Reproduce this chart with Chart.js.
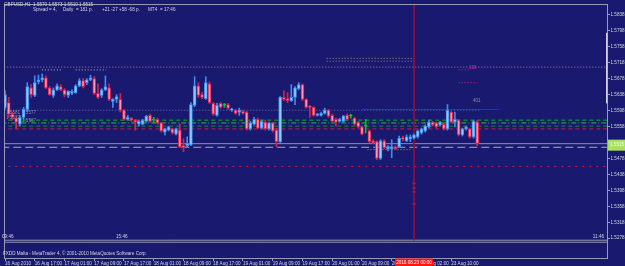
<!DOCTYPE html>
<html>
<head>
<meta charset="utf-8">
<script src="https://cdn.jsdelivr.net/npm/chart.js@4.4.1/dist/chart.umd.min.js"></script>
<style>
  html, body { margin: 0; padding: 0; background: #191970; }
  #wrap { width: 625px; height: 266px; }
</style>
</head>
<body>
<div id="wrap"><canvas id="chart" width="625" height="266"></canvas></div>
<script>
// GBPUSD H1 candles (bar 0 = 16 Aug 09:00)
const opens = [
  1.5606, 1.5618, 1.5589, 1.5579, 1.5564, 1.5581, 1.5601, 1.5655, 1.5636, 1.5670,
  1.5675, 1.5680, 1.5655, 1.5636, 1.5650, 1.5658, 1.5650, 1.5636, 1.5641, 1.5643,
  1.5660, 1.5673, 1.5668, 1.5675, 1.5678, 1.5641, 1.5636, 1.5650, 1.5655, 1.5621,
  1.5626, 1.5626, 1.5599, 1.5576, 1.5579, 1.5574, 1.5564, 1.5564, 1.5571, 1.5586,
  1.5574, 1.5576, 1.5567, 1.5544, 1.5549, 1.5552, 1.5539, 1.5549, 1.5510, 1.5510,
  1.5512, 1.5611, 1.5660, 1.5638, 1.5628, 1.5665, 1.5616, 1.5586, 1.5616, 1.5611,
  1.5613, 1.5599, 1.5599, 1.5594, 1.5596, 1.5594, 1.5552, 1.5564, 1.5576, 1.5554,
  1.5569, 1.5552, 1.5567, 1.5549, 1.5520, 1.5631, 1.5628, 1.5623, 1.5631, 1.5653,
  1.5663, 1.5626, 1.5608, 1.5606, 1.5586, 1.5586, 1.5591, 1.5599, 1.5586, 1.5576,
  1.5571, 1.5571, 1.5586, 1.5584, 1.5579, 1.5569, 1.5557, 1.5559, 1.5547, 1.5522,
  1.5520, 1.5478, 1.5522, 1.5502, 1.5502, 1.5507, 1.5507, 1.5529, 1.5522, 1.5527,
  1.5529, 1.5532, 1.5542, 1.5547, 1.5557, 1.5569, 1.5567, 1.5562, 1.5564, 1.5552,
  1.5594, 1.5569, 1.5574, 1.5537, 1.5552, 1.5552, 1.5532, 1.5570
];
const highs = [
  1.5648, 1.5631, 1.5594, 1.5584, 1.5586, 1.5606, 1.5668, 1.5663, 1.5685, 1.5687,
  1.5690, 1.5685, 1.5658, 1.5655, 1.5665, 1.5663, 1.5653, 1.5648, 1.5650, 1.5663,
  1.5678, 1.5678, 1.5678, 1.5687, 1.5683, 1.5665, 1.5653, 1.5685, 1.5665, 1.5628,
  1.5638, 1.5641, 1.5601, 1.5586, 1.5581, 1.5576, 1.5574, 1.5576, 1.5586, 1.5589,
  1.5581, 1.5579, 1.5569, 1.5554, 1.5559, 1.5554, 1.5554, 1.5564, 1.5527, 1.5532,
  1.5618, 1.5683, 1.5668, 1.5643, 1.5683, 1.5670, 1.5618, 1.5616, 1.5618, 1.5616,
  1.5616, 1.5604, 1.5601, 1.5604, 1.5599, 1.5596, 1.5571, 1.5581, 1.5579, 1.5574,
  1.5574, 1.5569, 1.5569, 1.5554, 1.5633, 1.5648, 1.5643, 1.5663, 1.5658, 1.5668,
  1.5665, 1.5628, 1.5611, 1.5608, 1.5591, 1.5594, 1.5604, 1.5601, 1.5589, 1.5579,
  1.5579, 1.5586, 1.5589, 1.5589, 1.5581, 1.5571, 1.5559, 1.5576, 1.5549, 1.5525,
  1.5522, 1.5525, 1.5525, 1.5510, 1.5525, 1.5510, 1.5534, 1.5534, 1.5537, 1.5537,
  1.5539, 1.5549, 1.5554, 1.5562, 1.5574, 1.5571, 1.5569, 1.5571, 1.5567, 1.5613,
  1.5596, 1.5594, 1.5576, 1.5554, 1.5559, 1.5554, 1.5574, 1.5573
];
const lows = [
  1.5601, 1.5581, 1.5574, 1.5552, 1.5559, 1.5576, 1.5596, 1.5631, 1.5633, 1.5665,
  1.5670, 1.5653, 1.5636, 1.5631, 1.5648, 1.5648, 1.5633, 1.5631, 1.5638, 1.5641,
  1.5658, 1.5655, 1.5663, 1.5673, 1.5638, 1.5628, 1.5631, 1.5648, 1.5623, 1.5606,
  1.5618, 1.5594, 1.5574, 1.5574, 1.5571, 1.5549, 1.5559, 1.5562, 1.5569, 1.5569,
  1.5567, 1.5564, 1.5544, 1.5537, 1.5547, 1.5539, 1.5537, 1.5505, 1.5495, 1.5505,
  1.5510, 1.5608, 1.5631, 1.5628, 1.5626, 1.5616, 1.5586, 1.5584, 1.5604, 1.5606,
  1.5601, 1.5596, 1.5589, 1.5586, 1.5589, 1.5549, 1.5549, 1.5562, 1.5552, 1.5552,
  1.5549, 1.5549, 1.5544, 1.5507, 1.5517, 1.5623, 1.5618, 1.5621, 1.5613, 1.5650,
  1.5623, 1.5604, 1.5581, 1.5584, 1.5584, 1.5584, 1.5589, 1.5581, 1.5569, 1.5559,
  1.5569, 1.5569, 1.5574, 1.5579, 1.5562, 1.5554, 1.5537, 1.5542, 1.5517, 1.5515,
  1.5475, 1.5475, 1.5502, 1.5497, 1.5480, 1.5500, 1.5505, 1.5522, 1.5520, 1.5520,
  1.5527, 1.5529, 1.5539, 1.5544, 1.5554, 1.5559, 1.5554, 1.5559, 1.5549, 1.5549,
  1.5567, 1.5557, 1.5534, 1.5534, 1.5549, 1.5529, 1.5529, 1.5510
];
const closes = [
  1.5638, 1.5589, 1.5581, 1.5569, 1.5581, 1.5601, 1.5658, 1.5638, 1.5668, 1.5675,
  1.5680, 1.5655, 1.5638, 1.5650, 1.5660, 1.5650, 1.5638, 1.5646, 1.5646, 1.5660,
  1.5673, 1.5658, 1.5675, 1.5680, 1.5641, 1.5631, 1.5650, 1.5658, 1.5626, 1.5626,
  1.5633, 1.5599, 1.5576, 1.5581, 1.5574, 1.5569, 1.5571, 1.5574, 1.5584, 1.5571,
  1.5574, 1.5567, 1.5547, 1.5552, 1.5557, 1.5542, 1.5552, 1.5507, 1.5505, 1.5515,
  1.5613, 1.5660, 1.5636, 1.5631, 1.5668, 1.5618, 1.5589, 1.5611, 1.5606, 1.5611,
  1.5604, 1.5601, 1.5591, 1.5599, 1.5591, 1.5552, 1.5567, 1.5576, 1.5554, 1.5571,
  1.5552, 1.5567, 1.5547, 1.5520, 1.5631, 1.5626, 1.5623, 1.5631, 1.5655, 1.5663,
  1.5626, 1.5606, 1.5606, 1.5586, 1.5589, 1.5591, 1.5599, 1.5584, 1.5571, 1.5569,
  1.5576, 1.5584, 1.5576, 1.5584, 1.5564, 1.5557, 1.5539, 1.5559, 1.5520, 1.5517,
  1.5478, 1.5522, 1.5505, 1.5507, 1.5507, 1.5502, 1.5529, 1.5527, 1.5532, 1.5532,
  1.5537, 1.5547, 1.5552, 1.5559, 1.5569, 1.5562, 1.5557, 1.5569, 1.5552, 1.5599,
  1.5569, 1.5576, 1.5537, 1.5552, 1.5557, 1.5532, 1.5571, 1.5515
];

const labelBars = [0, 8, 16, 24, 32, 40, 48, 56, 64, 72, 80, 88, 96, 104, 112, 120];
const timeLabels = [
  '16 Aug 2010', '16 Aug 17:00', '17 Aug 01:00', '17 Aug 09:00', '17 Aug 17:00',
  '18 Aug 01:00', '18 Aug 09:00', '18 Aug 17:00', '19 Aug 01:00', '19 Aug 09:00',
  '19 Aug 17:00', '20 Aug 01:00', '20 Aug 09:00', '20 Aug 17:00', '23 Aug 02:00',
  '23 Aug 10:00'
];
const priceTicks = [1.5838, 1.5798, 1.5758, 1.5718, 1.5678, 1.5638, 1.5598, 1.5558,
  1.5518, 1.5478, 1.5438, 1.5398, 1.5358, 1.5318, 1.5278];

// chart objects
const bidPrice = 1.5515;
const greenLevels = [1.5574, 1.5567, 1.5559];
const redLevel = 1.5552;
const yellowLevel = 1.5506;
const lowRedLevel = 1.5458;
const topDotLevel = 1.5707;
const midDotLevel = 1.5599;
const sessionLevels = [1.5273, 1.5268];
const cursorBar = 110;
const cursorTime = '2010.08.23 00:00';
const cursorMarks = [1.5416, 1.5404, 1.5394, 1.5364];

const UP_LINE = '#3c8cf0', UP_FILL = '#8ccfff';
const DN_LINE = '#d8204e', DN_FILL = '#ff93b0';
const DOJI = '#10c020';
const X_MAX = 161.9;

function candleColor(i, up, dn) {
  if (opens[i] === closes[i]) return DOJI;
  return closes[i] > opens[i] ? up : dn;
}

function hLine(price, from, to, color, dash, width) {
  return {
    type: 'line',
    data: [{ x: from, y: price }, { x: to, y: price }],
    borderColor: color,
    borderWidth: width || 1,
    borderDash: dash || [],
    pointRadius: 0,
    order: 5
  };
}

const idx = opens.map((_, i) => i);

const datasets = [
  {
    label: 'body',
    data: idx.map(i => ({ x: i, y: [opens[i], closes[i]] })),
    backgroundColor: idx.map(i => candleColor(i, UP_FILL, DN_FILL)),
    borderColor: idx.map(i => candleColor(i, UP_LINE, DN_LINE)),
    borderWidth: 1,
    borderSkipped: false,
    barThickness: 3,
    minBarLength: 1,
    grouped: false,
    order: 0
  },
  {
    label: 'wick',
    data: idx.map(i => ({ x: i, y: [lows[i], highs[i]] })),
    backgroundColor: idx.map(i => candleColor(i, UP_LINE, DN_LINE)),
    borderWidth: 0,
    barThickness: 1,
    grouped: false,
    order: 1
  },
  hLine(topDotLevel, -1, 170, '#a08490', [1, 2]),
  hLine(1.5729, 86.5, 109.8, '#c08870', [1, 2]),
  hLine(1.5722, 86.5, 109.8, '#a08070', [1, 2]),
  hLine(1.5700, 9.9, 15, '#b8b8c8', [1, 2]),
  hLine(1.5700, 19, 27.2, '#b8b8c8', [1, 2]),
  hLine(1.5700, 122, 125, '#d03050', [1, 2]),
  hLine(1.5668, 122, 127, '#d03050', [1, 2]),
  hLine(midDotLevel, -1, 128, '#6870a8', [1, 2]),
  hLine(1.5601, 96, 133, '#2030d0', []),
  hLine(greenLevels[0], -1, 170, '#10b020', [4, 3]),
  hLine(greenLevels[1], -1, 170, '#20c030', [5, 2, 1, 2]),
  hLine(greenLevels[2], -1, 170, '#109020', [4, 3]),
  hLine(redLevel, -1, 170, '#c02040', [4, 3]),
  hLine(bidPrice, -1, 170, '#8c8cbc', []),
  hLine(yellowLevel, -1, 170, '#a8b880', [8, 4]),
  hLine(1.5500, 97.5, 109, '#a0a070', [1, 2]),
  hLine(lowRedLevel, -1, 170, '#c02040', [2, 5]),
  hLine(sessionLevels[0], -1, 170, '#9a9ab4', []),
  hLine(sessionLevels[1], -1, 170, '#9a9ab4', []),
  {
    type: 'line',
    data: [{ x: cursorBar, y: 1.59 }, { x: cursorBar, y: sessionLevels[0] }],
    borderColor: '#8e1040',
    borderWidth: 1,
    pointRadius: 0,
    order: 4
  },
  {
    type: 'line',
    data: cursorMarks.map(p => ({ x: cursorBar, y: p })),
    showLine: false,
    pointStyle: 'line',
    pointRadius: 2,
    borderColor: '#c01840',
    borderWidth: 1,
    order: 3
  }
];

const mtChrome = {
  id: 'mtChrome',
  afterDraw(chart) {
    const { ctx, chartArea: a, scales: { x, y } } = chart;
    ctx.save();
    // frame
    ctx.strokeStyle = '#9a9ab4';
    ctx.lineWidth = 1;
    ctx.strokeRect(a.left - 0.5, a.top - 0.5, a.right - a.left + 1, a.bottom - a.top + 1);
    // white marker on the right edge
    ctx.fillStyle = '#d0d0e0';
    const y1 = y.getPixelForValue(1.5793), y2 = y.getPixelForValue(1.5616);
    ctx.fillRect(a.right - 1, y1, 1.5, y2 - y1);

    ctx.font = '4.6px "Liberation Sans"';
    ctx.textBaseline = 'middle';
    ctx.fillStyle = '#d4d4e0';
    ctx.fillText('GBPUSD,H1  1.5570 1.5573 1.5510 1.5515', 4, 5);
    ctx.fillText('Spread = 4,', 33, 9.5);
    ctx.fillText('Daily', 63, 9.5);
    ctx.fillText('= 181 p.', 76, 9.5);
    ctx.fillText('+21 -27 +58 -68 p.', 102, 9.5);
    ctx.fillText('MT4', 148, 9.5);
    ctx.fillText('= 17:46', 160, 9.5);
    ctx.fillText('FXDD Malta - MetaTrader 4, \u00a9 2001-2010 MetaQuotes Software Corp.', 3, 254);
    ctx.fillText('09:46', 2, 237);
    ctx.fillText('15:46', 116, 237);
    ctx.textAlign = 'right';
    ctx.fillText('11:46', 604, 237);
    ctx.textAlign = 'left';

    // overlapping price labels of the levels, left side
    ctx.fillStyle = '#8c8ca8';
    ctx.fillText('1.5581', 6, 113);
    ctx.fillText('1.5577', 22, 113);
    ctx.fillText('1.5572', 6, 118);
    ctx.fillText('1.5567', 22, 121);
    ctx.fillText('401', 473, 100.5);
    ctx.fillStyle = '#d020c0';
    ctx.fillText('108', 469, 67.5);

    // bid price label
    const by = y.getPixelForValue(bidPrice) + 1.5;
    ctx.fillStyle = '#a8e25c';
    ctx.fillRect(a.right + 1, by - 5.5, 625 - a.right - 1, 11);
    ctx.fillStyle = '#f4fff0';
    ctx.fillText(bidPrice.toFixed(4), a.right + 3, by);

    // cursor time label
    const cx = x.getPixelForValue(cursorBar);
    ctx.fillStyle = '#ff1414';
    ctx.fillRect(cx - 19, a.bottom + 0.5, 38, 266 - a.bottom);
    ctx.fillStyle = '#ffffff';
    ctx.textAlign = 'center';
    ctx.fillText(cursorTime, cx, 262.5);
    ctx.restore();
  }
};

new Chart(document.getElementById('chart').getContext('2d'), {
  type: 'bar',
  data: { datasets },
  options: {
    responsive: false,
    animation: false,
    devicePixelRatio: 1,
    layout: { padding: { left: 1, top: 1, right: 0, bottom: 0 } },
    plugins: { legend: { display: false }, tooltip: { enabled: false } },
    scales: {
      x: {
        type: 'linear',
        min: 0,
        max: X_MAX,
        offset: false,
        border: { display: false },
        grid: { drawOnChartArea: false, offset: false, tickLength: 3, color: '#9a9ab4' },
        ticks: {
          autoSkip: false,
          maxRotation: 0,
          align: 'start',
          padding: 0,
          color: '#d4d4e0',
          font: { family: 'Liberation Sans', size: 4.6 },
          callback: (v, i) => timeLabels[i]
        },
        afterBuildTicks: s => { s.ticks = labelBars.map(v => ({ value: v })); },
        afterFit: s => { s.height = 8; }
      },
      y: {
        position: 'right',
        min: 1.52284,
        max: 1.58627,
        border: { display: false },
        grid: { drawOnChartArea: false, tickLength: 3, color: '#9a9ab4' },
        ticks: {
          padding: 0.5,
          color: '#d4d4e0',
          font: { family: 'Liberation Sans', size: 4.6 },
          callback: v => v.toFixed(4)
        },
        afterBuildTicks: s => { s.ticks = priceTicks.map(v => ({ value: v })); },
        afterFit: s => { s.width = 18; }
      }
    }
  },
  plugins: [mtChrome]
});
</script>
</body>
</html>
